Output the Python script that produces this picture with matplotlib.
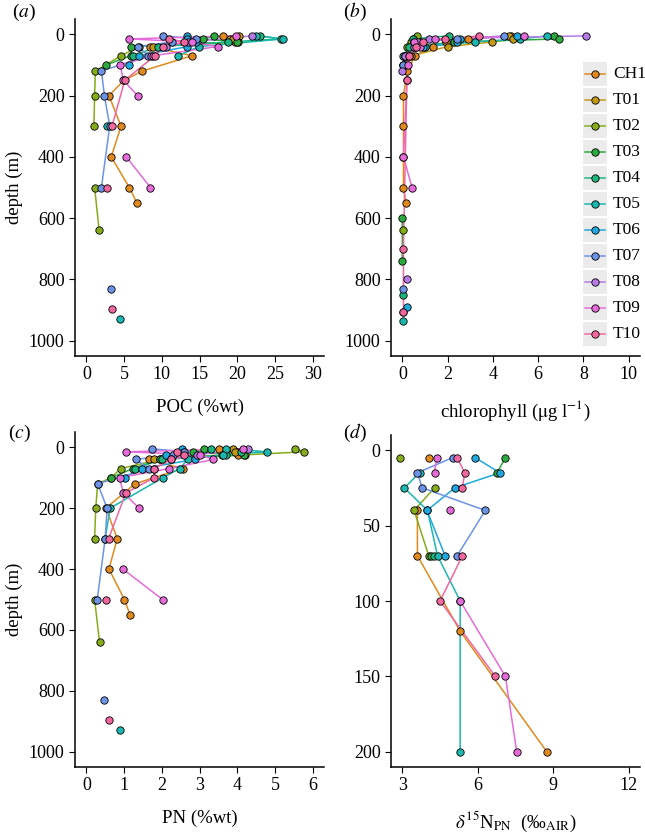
import numpy as np
import matplotlib
matplotlib.use('Agg')
import matplotlib.pyplot as plt
from matplotlib.patches import Rectangle
from matplotlib.lines import Line2D
from matplotlib import font_manager

na = np.nan

STATIONS = ['CH1', 'T01', 'T02', 'T03', 'T04', 'T05', 'T06', 'T07', 'T08', 'T09', 'T10']
COLORS = ['#E08A1E', '#C39A14', '#86AC1A', '#2DAA3F', '#1DB57E', '#1AB8B0',
          '#1FA8DE', '#6C93E8', '#B77BE8', '#E66BDA', '#F2679F']

# POC (%wt): station -> (depth m, value); nan breaks the line
poc = {
    'CH1': ([5, 15, 25, 40, 70, 120, 150, 200, 300, 400, 500, 550],
            [18.1, 19.1, 19.7, 8.5, 14.0, 7.4, 5.0, 3.0, 4.6, 3.3, 5.7, 6.7]),
    'T01': ([5, 15, 25, 40], [20.3, 19.4, 20.1, 8.8]),
    'T02': ([40, 70, 120, 200, 300, 400, 500, 640],
            [7.0, 4.6, 1.2, 1.1, 1.0, na, 1.1, 1.7]),
    'T03': ([5, 15, 25, 40, 70, 100], [16.9, 15.5, 20.0, 5.9, 5.9, 2.6]),
    'T04': ([5, 15, 25, 40, 70], [23.0, 25.8, 18.8, 9.5, 6.2]),
    'T05': ([5, 15, 40, 70, 200, 300, 500, 930],
            [22.5, 26.1, 14.9, 12.2, na, 2.8, na, 4.5]),
    'T06': ([5, 15, 25, 40, 70, 100], [13.3, 13.4, 14.5, 13.4, 7.0, 5.7]),
    'T07': ([5, 15, 25, 40, 70, 120, 200, 300, 500, 700, 830],
            [10.2, 14.6, 11.4, 6.9, 8.2, 2.0, 2.4, 3.1, 2.0, na, 3.3]),
    'T08': ([5, 25, 40, 70], [22.0, 13.5, 10.5, 8.6]),
    'T09': ([5, 15, 25, 40, 70, 100, 150, 200, 300, 400, 500],
            [19.8, 5.7, 14.0, 17.4, 8.8, 4.5, 4.9, 6.8, na, 5.3, 8.5]),
    'T10': ([15, 25, 40, 70, 150, 300, 400, 500, 700, 895],
            [11.0, 13.0, 10.2, 9.1, 5.1, 3.4, na, 2.8, na, 3.4]),
}

# chlorophyll (ug/l)
chl = {
    'CH1': ([5, 15, 25, 40, 70, 120, 200, 300, 400, 500, 550, 700, 905],
            [4.8, 2.9, 1.95, 1.36, 0.57, 0.22, 0.05, 0.05, 0.05, 0.05, 0.15, na, 0.05]),
    'T01': ([5, 15, 25, 40, 70, 100], [4.7, 4.9, 3.97, 2.0, 0.4, 0.1]),
    'T02': ([5, 15, 25, 40, 70, 100, 300, 640], [0.65, 0.45, 0.4, 0.2, 0.1, 0.05, na, 0.05]),
    'T03': ([5, 15, 25, 40, 70, 100, 300, 600, 740], [6.7, 6.9, 2.3, 0.5, 0.1, 0.05, na, 0.0, 0.0]),
    'T04': ([5, 15, 25, 40, 70, 300, 850], [2.05, 0.45, 0.5, 0.3, 0.05, na, 0.05]),
    'T05': ([5, 15, 25, 40, 70, 300, 935], [6.4, 5.2, 3.2, 1.0, 0.1, na, 0.05]),
    'T06': ([5, 15, 25, 40, 70, 300, 890], [5.07, 2.57, 2.4, 0.9, 0.1, na, 0.2]),
    'T07': ([5, 15, 25, 40, 70, 100, 300, 830], [4.5, 2.4, 0.8, 0.6, 0.1, 0.05, na, 0.05]),
    'T08': ([5, 15, 25, 40, 70, 120, 300, 800], [8.1, 1.2, 0.7, 0.5, 0.1, 0.0, na, 0.2]),
    'T09': ([5, 15, 25, 40, 70, 100, 150, 400, 500],
            [5.37, 1.46, 0.5, 0.8, 0.3, 0.25, 0.2, 0.05, 0.43]),
    'T10': ([5, 15, 25, 40, 70, 150, 700, 905], [3.4, 1.9, 0.9, 0.6, 0.3, 0.2, 0.05, 0.05]),
}

# PN (%wt)
pn = {
    'CH1': ([5, 15, 25, 40, 70, 120, 150, 200, 300, 400, 500, 550],
            [3.51, 4.0, 4.03, 1.67, 2.56, 1.29, 1.0, 0.52, 0.82, 0.6, 1.01, 1.16]),
    'T01': ([5, 15, 25, 40], [3.9, 3.95, 3.6, 1.8]),
    'T02': ([5, 15, 25, 40, 70, 100, 120, 200, 300, 400, 500, 640],
            [5.53, 5.78, 4.2, 1.96, 0.91, 0.66, 0.3, 0.25, 0.22, na, 0.22, 0.35]),
    'T03': ([5, 15, 25, 40, 70, 100], [3.12, 2.83, 4.17, 1.96, 1.23, 0.66]),
    'T04': ([5, 15, 25, 40, 70], [3.3, 4.1, 3.7, 2.0, 1.3]),
    'T05': ([5, 15, 25, 40, 70, 100, 200, 300, 500, 930],
            [3.7, 4.8, 3.63, 2.69, 2.47, 2.03, 0.63, 0.5, na, 0.9]),
    'T06': ([5, 15, 25, 40, 70, 100], [2.53, 2.6, 2.1, 2.87, 1.47, 1.03]),
    'T07': ([5, 15, 25, 40, 70, 120, 200, 300, 500, 700, 830],
            [1.73, 2.6, 2.29, 1.31, 1.66, 0.3, 0.55, 0.5, 0.29, na, 0.48]),
    'T08': ([5, 25, 40, 70], [4.29, 2.93, 2.24, 1.8]),
    'T09': ([5, 15, 25, 40, 70, 100, 150, 200, 300, 400, 500],
            [4.15, 1.05, 3.0, 3.37, 2.19, 0.88, 0.98, 1.4, na, 0.97, 2.02]),
    'T10': ([15, 25, 40, 70, 100, 150, 300, 400, 500, 700, 895],
            [2.4, 2.6, 2.24, 1.8, 1.8, 1.05, 0.59, na, 0.52, na, 0.6]),
}

# d15N of PN (permil vs AIR)
d15n = {
    'CH1': ([5, 15, 40, 70, 120, 200], [4.08, na, 3.6, 3.6, 5.3, 8.75]),
    'T02': ([5, 15, 25, 40, 70], [2.9, na, 4.28, 3.47, 4.05]),
    'T03': ([5, 15, 40, 70], [7.1, 6.77, na, 4.15]),
    'T04': ([70], [4.25]),
    'T05': ([15, 25, 40, 70, 100, 200], [3.69, 3.08, 4.0, 4.4, 5.3, 5.3]),
    'T06': ([5, 15, 25, 40, 70], [5.89, 6.88, 5.09, 3.98, 4.7]),
    'T07': ([5, 15, 25, 40, 70], [5.0, 3.6, 3.79, 6.3, 5.18]),
    'T09': ([5, 15, 25, 40, 70, 100, 150, 200], [4.37, 4.28, na, 4.89, na, 5.3, 7.1, 7.55]),
    'T10': ([5, 15, 25, 40, 70, 100, 150], [5.18, 5.48, 5.39, na, 5.39, 4.5, 6.7]),
}

W, H = 645, 834
avail = {f.name for f in font_manager.fontManager.ttflist}
serif = [f for f in ['Liberation Serif', 'Times New Roman', 'DejaVu Serif'] if f in avail]
print('serif fonts:', serif)
plt.rcParams['font.family'] = 'serif'
plt.rcParams['font.serif'] = serif
plt.rcParams['mathtext.fontset'] = 'stix'

fig = plt.figure(figsize=(W / 100, H / 100), dpi=100)


def px_axes(x0, y0, x1, y1):
    return fig.add_axes([x0 / W, 1 - y1 / H, (x1 - x0) / W, (y1 - y0) / H])


def draw_panel(ax, data, xlim, xticks, ylim, yticks, xlabel, ylabel=None):
    for st, c in zip(STATIONS, COLORS):
        if st in data:
            d, v = data[st]
            ax.plot(v, d, '-', color=c, lw=1.1, zorder=2)
    for st, c in zip(STATIONS, COLORS):
        if st in data:
            d, v = data[st]
            ax.plot(v, d, 'o', mfc=c, mec='black', mew=0.6, ms=5.3, zorder=3)
    ax.set_xlim(xlim)
    ax.set_ylim(ylim)
    ax.set_xticks(xticks)
    ax.set_yticks(yticks)
    for s in ['top', 'right']:
        ax.spines[s].set_visible(False)
    for s in ['left', 'bottom']:
        ax.spines[s].set_linewidth(1.1)
    ax.tick_params(direction='out', length=4, width=0.8, labelsize=13, colors='black')
    ax.set_xlabel(xlabel, fontsize=13.5, labelpad=11)
    if ylabel:
        ax.set_ylabel(ylabel, fontsize=13.5, labelpad=4)


ax_a = px_axes(75, 19, 324, 356)
draw_panel(ax_a, poc, (-1.5, 31.5), range(0, 31, 5), (1050, -50), range(0, 1001, 200),
           'POC (%wt)', 'depth (m)')
ax_b = px_axes(391, 19, 640, 356)
draw_panel(ax_b, chl, (-0.5, 10.5), range(0, 11, 2), (1050, -50), range(0, 1001, 200),
           r'chlorophyll ($\mathrm{\mu}$g l$^{-1}$)')
ax_c = px_axes(75, 432, 324, 767)
draw_panel(ax_c, pn, (-0.3, 6.3), range(0, 7), (1050, -50), range(0, 1001, 200),
           'PN (%wt)', 'depth (m)')
ax_d = px_axes(391, 435, 640, 767)
draw_panel(ax_d, d15n, (2.55, 12.45), [3, 6, 9, 12], (210, -10), range(0, 201, 50),
           r'$\delta^{15}$N$_{\rm PN}$  (‰$_{\rm AIR}$)')

# panel tags
for tag, x, y in [('a', 12, 12), ('b', 343, 12), ('c', 8, 433), ('d', 343, 433)]:
    fig.text(x / W, 1 - y / H, r'($\mathit{%s}$)' % tag, fontsize=14, va='center')

# legend drawn ggplot-style with grey key boxes
for i, (st, c) in enumerate(zip(STATIONS, COLORS)):
    yc = 74 + 26 * i
    fig.patches.append(Rectangle((583 / W, 1 - (yc + 12) / H), 24 / W, 24 / H,
                                 transform=fig.transFigure, facecolor='#EBEBEB',
                                 edgecolor='none', zorder=1))
    fig.lines.append(Line2D([585 / W, 605 / W], [1 - yc / H, 1 - yc / H],
                            transform=fig.transFigure, color=c, lw=1.1, zorder=2))
    fig.lines.append(Line2D([595 / W], [1 - yc / H], transform=fig.transFigure,
                            marker='o', mfc=c, mec='black', mew=0.6, ms=5.3, zorder=3))
    fig.text(613 / W, 1 - yc / H, st, fontsize=12.5, va='center')

fig.savefig('out.png', dpi=100)
